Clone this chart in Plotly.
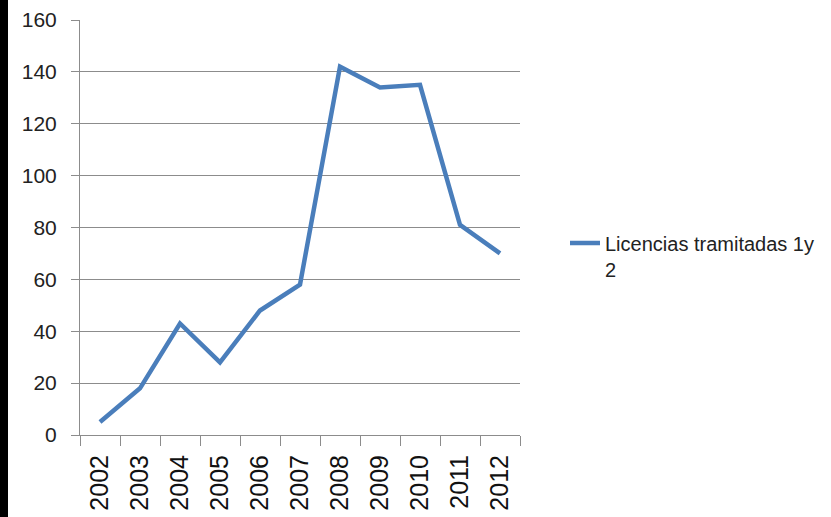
import plotly.graph_objects as go

years = ["2002", "2003", "2004", "2005", "2006", "2007", "2008", "2009", "2010", "2011", "2012"]
licencias = [5, 18, 43, 28, 48, 58, 142, 134, 135, 81, 70]
series_name = "Licencias tramitadas 1y<br>2"
y_ticks = [0, 20, 40, 60, 80, 100, 120, 140, 160]

W, H = 831, 517
L, R, T, B = 80, 311, 20, 82
PW, PH = W - L - R, H - T - B

fig = go.Figure()
fig.add_trace(go.Scatter(
    x=years, y=licencias, mode="lines", name=series_name,
    line=dict(color="#4a7ebb", width=4.5),
    showlegend=True,
))

fig.update_layout(
    width=W, height=H,
    margin=dict(l=L, r=R, t=T, b=B, autoexpand=False),
    paper_bgcolor="white", plot_bgcolor="white",
    font=dict(family="Liberation Sans, Arial", color="#222", size=18),
    showlegend=True,
    legend=dict(
        x=(565 - L) / PW, y=(T + PH - 256) / PH, xanchor="left", yanchor="middle",
        font=dict(family="Liberation Sans, Arial", size=20, color="#222"),
        bgcolor="rgba(0,0,0,0)", valign="top",
    ),
    xaxis=dict(
        type="category", tickangle=-90, automargin=False,
        showline=True, linecolor="#8c8c8c", linewidth=1,
        ticks="outside", ticklen=10, tickcolor="#8c8c8c",
        tickson="boundaries", showgrid=False,
        ticklabelstandoff=9,
        tickfont=dict(family="Liberation Sans, Arial", size=25, color="#111"),
        range=[-0.5, 10.5],
    ),
    yaxis=dict(
        range=[0, 160], tickvals=y_ticks, automargin=False,
        showline=True, linecolor="#8c8c8c", linewidth=1,
        ticks="outside", ticklen=8, tickcolor="#8c8c8c",
        showgrid=True, gridcolor="#8c8c8c", gridwidth=1,
        zeroline=False, ticklabelstandoff=10,
        tickfont=dict(family="Liberation Sans, Arial", size=21, color="#222"),
    ),
    shapes=[dict(
        type="rect", xref="paper", yref="paper",
        x0=-L / PW, x1=-(L - 8) / PW, y0=-B / PH, y1=1 + T / PH,
        fillcolor="black", line=dict(width=0), layer="above",
    )],
)

fig.write_html("out.html", config={"displayModeBar": False},
               post_script="document.body.style.margin='0';")
